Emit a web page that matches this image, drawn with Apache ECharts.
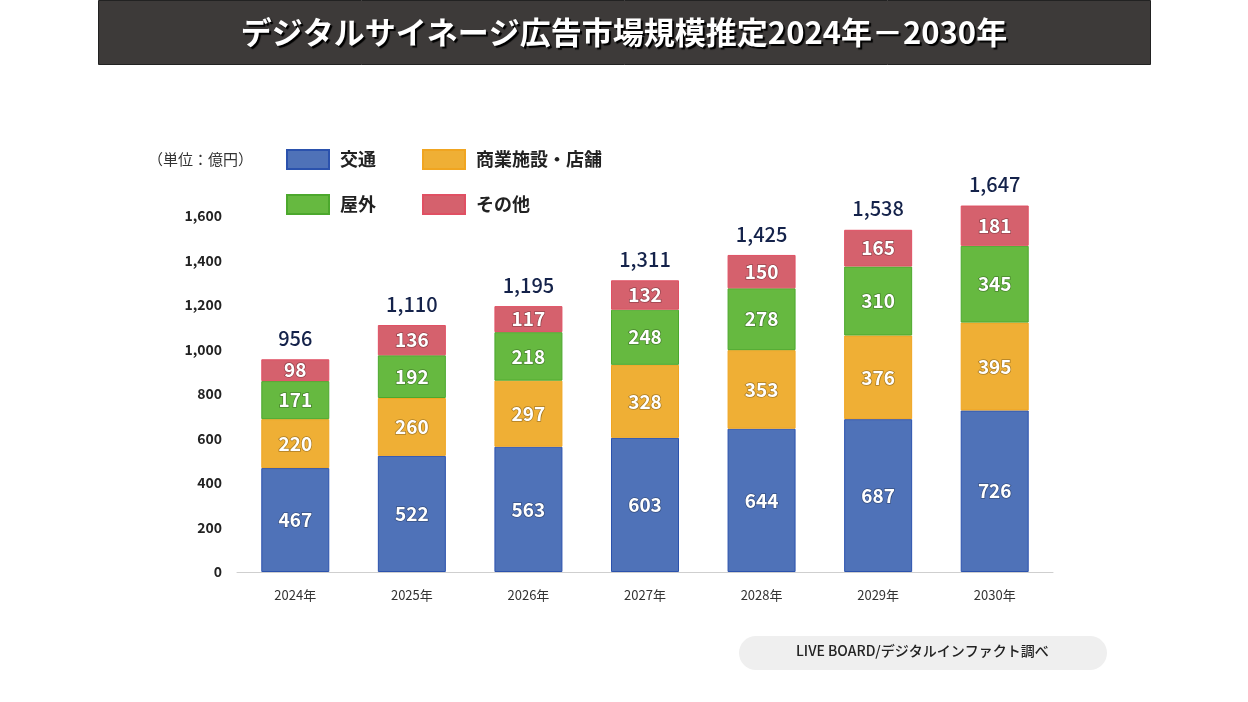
<!DOCTYPE html>
<html><head><meta charset="utf-8">
<script src="https://cdn.jsdelivr.net/npm/echarts@6/dist/echarts.min.js"></script>
<style>html,body{margin:0;padding:0;background:#fff;}#c{width:1248px;height:702px;}</style>
</head><body><div id="c"></div>
<script>
const categories = ['2024年','2025年','2026年','2027年','2028年','2029年','2030年'];
const transport = [467, 522, 563, 603, 644, 687, 726];
const commercial = [220, 260, 297, 328, 353, 376, 395];
const outdoor = [171, 192, 218, 248, 278, 310, 345];
const other = [98, 136, 117, 132, 150, 165, 181];
const totals = [956, 1110, 1195, 1311, 1425, 1538, 1647];
const yTicks = [0, 200, 400, 600, 800, 1000, 1200, 1400, 1600];

const FONT = '"Noto Sans CJK JP", "Noto Sans", sans-serif';
const fmt = v => v.toLocaleString('en-US');
const inLabel = {
  show: true, position: 'inside', color: '#fff', fontSize: 19, fontWeight: 'bold', fontFamily: FONT,
  textBorderColor: 'rgba(0,0,0,0.3)', textBorderWidth: 1.5
};
function mk(name, data, color, border) {
  return { name, type: 'bar', stack: 't', data, barWidth: 68,
    itemStyle: { color, borderColor: border, borderWidth: 1 },
    label: inLabel, emphasis: { disabled: true } };
}
const chart = echarts.init(document.getElementById('c'), null, { renderer: 'canvas' });
chart.setOption({
  animation: false,
  backgroundColor: '#fff',
  textStyle: { fontFamily: FONT },
  graphic: [
    { type: 'rect', left: 98, top: 0, shape: { width: 1052, height: 64 }, style: { fill: '#3d3a39', stroke: '#222', lineWidth: 1 } },
    { type: 'text', left: 'center', top: 17, style: { text: 'デジタルサイネージ広告市場規模推定2024年－2030年', fill: '#fff', font: 'bold 31px ' + FONT,
      textShadowColor: '#000', textShadowOffsetX: 2, textShadowOffsetY: 2, textShadowBlur: 1 } },
    { type: 'text', left: 148, top: 152, style: { text: '（単位：億円）', fill: '#333', font: '15px ' + FONT } },
    { type: 'rect', left: 739, top: 636, shape: { width: 368, height: 34, r: 17 }, style: { fill: '#efefef' } },
    { type: 'text', left: 796, top: 644, style: { text: 'LIVE BOARD/デジタルインファクト調べ', fill: '#222', font: '500 14px ' + FONT } }
  ],
  legend: [
    { data: ['交通', '商業施設・店舗'], icon: 'rect', left: 281, top: 144, itemWidth: 42, itemHeight: 19, itemGap: 46,
      textStyle: { fontSize: 18, fontWeight: 'bold', color: '#222', padding: [0, 0, 0, 6] }, selectedMode: false },
    { data: ['屋外', 'その他'], icon: 'rect', left: 281, top: 189, itemWidth: 42, itemHeight: 19, itemGap: 46,
      textStyle: { fontSize: 18, fontWeight: 'bold', color: '#222', padding: [0, 0, 0, 6] }, selectedMode: false }
  ],
  grid: { left: 237, right: 195, top: 171.5, bottom: 130 },
  xAxis: { type: 'category', data: categories,
    axisLine: { lineStyle: { color: '#cfcfcf' } }, axisTick: { show: false },
    axisLabel: { color: '#333', fontSize: 13, margin: 17 } },
  yAxis: { type: 'value', min: 0, max: 1800, interval: 200, splitLine: { show: false },
    axisLine: { show: false }, axisTick: { show: false },
    axisLabel: { color: '#222', fontSize: 14, fontWeight: 'bold', margin: 15,
      formatter: v => yTicks.includes(v) ? fmt(v) : '' } },
  series: [
    mk('交通', transport, '#4f72b8', '#2b52ad'),
    mk('商業施設・店舗', commercial, '#efaf35', '#f0a521'),
    mk('屋外', outdoor, '#66b940', '#4ca82d'),
    mk('その他', other, '#d5616d', '#e05063'),
    { name: 'total', type: 'bar', stack: 't', data: totals.map(() => 0), barWidth: 68,
      itemStyle: { color: 'transparent' },
      label: { show: true, position: 'top', distance: 11, color: '#14224a', fontSize: 20, fontWeight: 500, fontFamily: FONT,
        formatter: p => fmt(totals[p.dataIndex]) }, emphasis: { disabled: true } }
  ]
});
</script></body></html>
